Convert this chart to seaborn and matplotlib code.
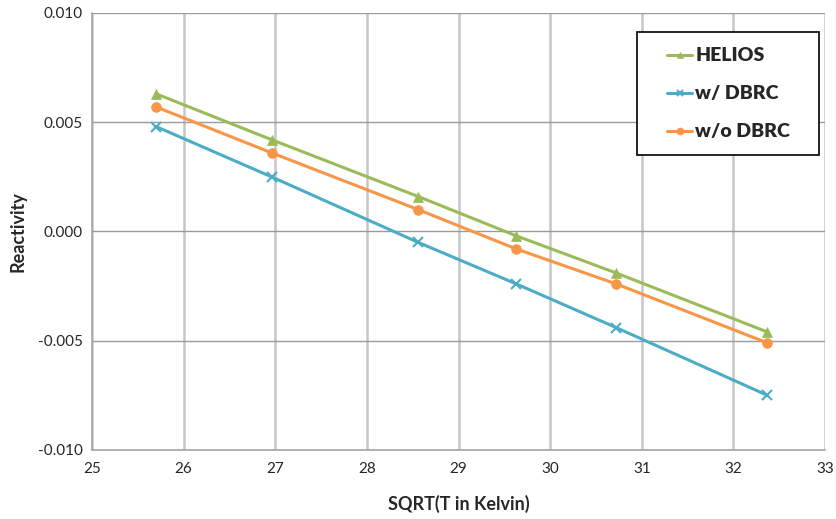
import matplotlib
matplotlib.use("Agg")
import matplotlib.pyplot as plt
from matplotlib.patches import Rectangle
import seaborn as sns
import pandas as pd

x_vals = [25.70, 26.96, 28.56, 29.63, 30.72, 32.37]
helios = [0.0063, 0.0042, 0.0016, -0.0002, -0.0019, -0.0046]
w_dbrc = [0.0048, 0.0025, -0.0005, -0.0024, -0.0044, -0.0075]
wo_dbrc = [0.0057, 0.0036, 0.0010, -0.0008, -0.0024, -0.0051]
series_names = ["HELIOS", "w/ DBRC", "w/o DBRC"]
colors = ["#9BBB59", "#4BACC6", "#F79646"]
markers = ["^", "x", "o"]

sns.set_style("white")
plt.rcParams['font.family'] = ['Lato', 'DejaVu Sans']

fig = plt.figure(figsize=(8.36, 5.19), dpi=100)
ax = fig.add_axes([0.110, 0.133, 0.877, 0.842])

for name, vals, c, m in zip(series_names, [helios, w_dbrc, wo_dbrc], colors, markers):
    df = pd.DataFrame({"x": x_vals, "y": vals})
    sns.lineplot(data=df, x="x", y="y", ax=ax, color=c, marker=m, markersize=7,
                 markeredgecolor=c, markeredgewidth=1.5 if m == "x" else 0.5,
                 linewidth=2.2, label=name)

ax.set_xlim(25, 33)
ax.set_ylim(-0.010, 0.010)
ax.set_xticks(range(25, 34))
ax.set_yticks([-0.010, -0.005, 0.0, 0.005, 0.010])
ax.set_yticklabels(["-0.010", "-0.005", "0.000", "0.005", "0.010"])
ax.xaxis.grid(True, color="#C6C6C6", linewidth=1.8)
ax.yaxis.grid(True, color="#9A9A9A", linewidth=1.0)
ax.set_axisbelow(True)
for s in ["top", "right"]:
    ax.spines[s].set_visible(False)
for s in ["left", "bottom"]:
    ax.spines[s].set_color("#A6A6A6")
    ax.spines[s].set_linewidth(1.2)
ax.tick_params(axis="both", which="both", length=5, color="#A6A6A6", labelsize=11, width=1)
ax.tick_params(axis="x", direction="inout", pad=6)
ax.tick_params(axis="y", direction="inout", pad=4)

ax.set_xlabel("SQRT(T in Kelvin)", fontsize=13, fontweight="bold", labelpad=14)
ax.set_ylabel("Reactivity", fontsize=13, fontweight="bold", labelpad=8)

# legend frame
ax.add_patch(Rectangle((0.7435, 0.675), 0.2483, 0.2815, transform=ax.transAxes,
                       facecolor="white", edgecolor="black", linewidth=1.2,
                       zorder=5, clip_on=False))
leg = ax.legend(loc="upper left", bbox_to_anchor=(0.7844, 0.921), frameon=False,
                prop={"size": 14, "weight": "heavy"}, handlelength=1.3,
                handletextpad=0.15, labelspacing=1.08, borderpad=0, borderaxespad=0)
leg.set_zorder(6)
for h in leg.legend_handles:
    h.set_markersize(5)

fig.savefig("out.png", dpi=100)
